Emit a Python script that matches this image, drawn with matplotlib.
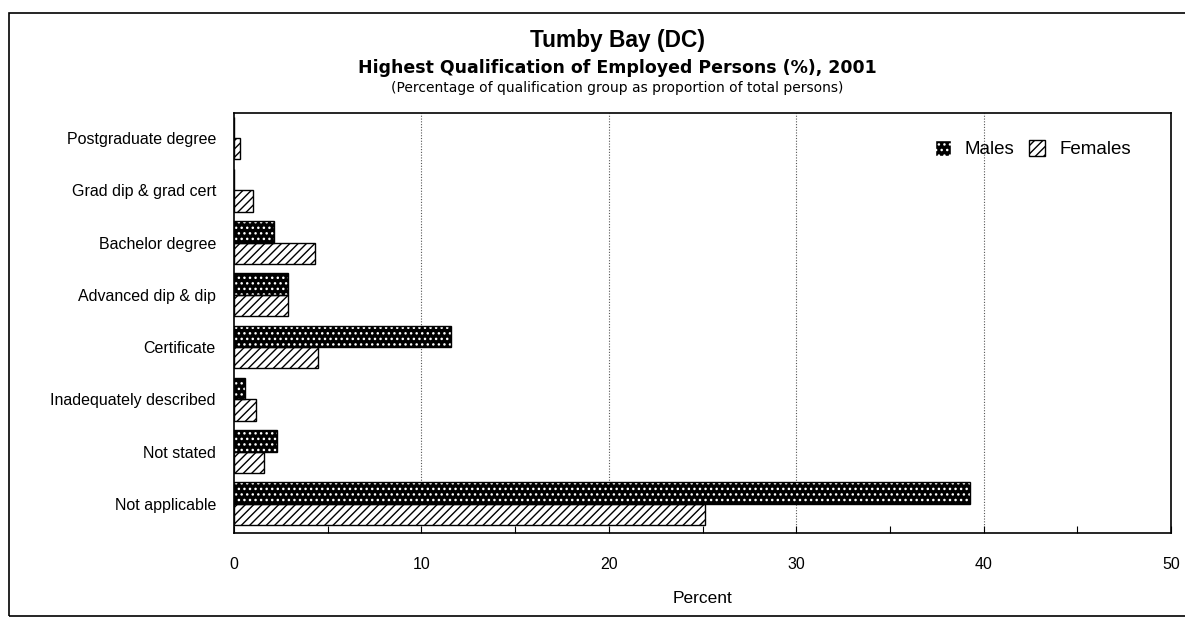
import numpy as np
import matplotlib.pyplot as plt
from matplotlib.patches import Patch, Rectangle

categories = ['Postgraduate degree', 'Grad dip & grad cert', 'Bachelor degree',
              'Advanced dip & dip', 'Certificate', 'Inadequately described',
              'Not stated', 'Not applicable']
males = [0.0, 0.0, 2.15, 2.9, 11.6, 0.6, 2.3, 39.3]
females = [0.3, 1.0, 4.3, 2.9, 4.5, 1.2, 1.6, 25.15]

plt.rcParams['font.family'] = ['Liberation Sans', 'DejaVu Sans']

W, H = 1185, 617
fig = plt.figure(figsize=(W / 100, H / 100), dpi=100)
ax = fig.add_axes([234 / W, 1 - 533 / H, (1171 - 234) / W, (533 - 113) / H])

y = np.arange(len(categories))
h = 0.41

# males: black with white dots, then a black outline on top
ax.barh(y - h / 2, males, height=h, color='black', edgecolor='white', hatch='...', linewidth=0, zorder=3)
ax.barh(y - h / 2, males, height=h, fill=False, edgecolor='black', linewidth=1, zorder=4)
# females: white with diagonal lines
ax.barh(y + h / 2, females, height=h, color='white', edgecolor='black', hatch='////', linewidth=1, zorder=3)

ax.set_ylim(7.56, -0.48)
ax.set_xlim(0, 50)
ax.set_yticks(y)
ax.set_yticklabels(categories, fontsize=11.5)
ax.tick_params(axis='y', length=0, pad=13)
ax.set_xticks(np.arange(0, 51, 5))
ax.set_xticklabels(['0', '', '10', '', '20', '', '30', '', '40', '', '50'], fontsize=11.5)
ax.tick_params(axis='x', direction='in', length=5, pad=17)
ax.set_xlabel('Percent', fontsize=12.5, labelpad=14)

for v in [10, 20, 30, 40]:
    ax.axvline(v, color='#555555', linestyle=(0, (1, 1.5)), linewidth=0.8, zorder=1)

for s in ax.spines.values():
    s.set_linewidth(1.2)

handles = [Patch(facecolor='black', edgecolor='white', hatch='...', label='Males'),
           Patch(facecolor='white', edgecolor='black', hatch='////', label='Females')]
ax.legend(handles=handles, loc='center right',
          bbox_to_anchor=((1131 - 234) / 937, (533 - 149) / 420), ncol=2,
          frameon=False, fontsize=13.5, handlelength=0.85, handleheight=0.95,
          handletextpad=0.75, columnspacing=0.8, borderpad=0, borderaxespad=0)

cx = 617 / W
fig.text(cx, 1 - 41 / H, 'Tumby Bay (DC)', ha='center', va='center',
         fontsize=16.4, fontweight='bold')
fig.text(cx, 1 - 68 / H, 'Highest Qualification of Employed Persons (%), 2001',
         ha='center', va='center', fontsize=12.5, fontweight='bold', family='DejaVu Sans')
fig.text(cx, 1 - 88 / H, '(Percentage of qualification group as proportion of total persons)',
         ha='center', va='center', fontsize=10, family='DejaVu Sans')

# outer frame (right side runs off the picture)
fig.add_artist(Rectangle((9 / W, 1 - 616 / H), 1.1, (616 - 13) / H,
                         transform=fig.transFigure, fill=False, edgecolor='black', linewidth=1.2))

fig.savefig('out.png', dpi=100)
